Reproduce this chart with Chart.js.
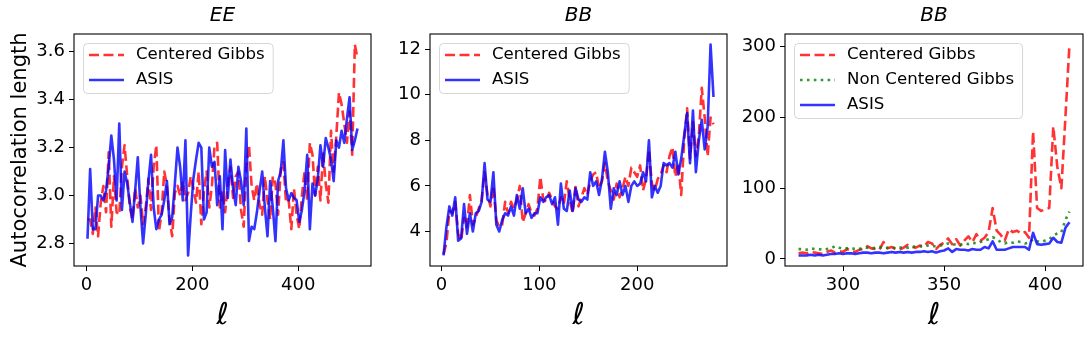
<!DOCTYPE html>
<html>
<head>
<meta charset="utf-8">
<script src="https://cdn.jsdelivr.net/npm/chart.js@4"></script>
<style>
  html, body { margin: 0; padding: 0; background: #fff; }
  #wrap { position: relative; width: 1091px; height: 342px; overflow: hidden; }
  canvas { position: absolute; top: 0; }
</style>
</head>
<body>
<div id="wrap">
  <canvas id="c1" width="380" height="342" style="left:0px"></canvas>
  <canvas id="c2" width="355" height="342" style="left:380px"></canvas>
  <canvas id="c3" width="356" height="342" style="left:735px"></canvas>
</div>
<script>
// ─── DATOS ────────────────────────────────────────────────────
// Panel 1: EE
const ell1 = [2,7,12,17,22,27,32,37,42,47,52,57,62,67,72,77,82,87,92,97,102,107,112,117,122,127,132,137,142,147,152,157,162,167,172,177,182,187,192,197,202,207,212,217,222,227,232,237,242,247,252,257,262,267,272,277,282,287,292,297,302,307,312,317,322,327,332,337,342,347,352,357,362,367,372,377,382,387,392,397,402,407,412,417,422,427,432,437,442,447,452,457,462,467,472,477,482,487,492,497,502,507,512];
const eeGibbs = [2.90,2.90,2.84,2.95,2.83,2.97,3.04,2.93,3.18,2.87,
  3.08,2.93,2.92,3.12,3.21,3.08,2.95,2.90,3.03,2.95,
  3.00,2.88,2.95,3.07,2.94,3.12,3.21,2.85,2.93,3.10,
  3.04,2.90,2.83,3.01,3.04,3.00,3.06,2.98,3.01,3.08,
  3.03,2.97,3.10,2.88,3.02,3.10,2.95,3.04,3.21,3.22,
  2.95,3.02,2.93,3.05,3.12,2.99,3.08,3.10,2.94,2.87,
  3.12,3.21,3.04,2.98,3.05,2.96,2.92,3.08,2.98,2.90,
  3.08,3.05,2.92,3.11,3.14,2.97,2.98,2.86,3.03,2.92,
  2.86,3.00,3.10,2.98,3.22,3.17,3.00,3.12,2.98,3.18,
  3.05,2.97,3.27,3.10,3.25,3.43,3.38,3.30,3.22,3.35,
  3.17,3.63,3.57];
const eeAsis = [2.82,3.11,2.86,2.86,3.00,3.00,2.98,3.02,3.12,3.25,
  3.15,2.98,3.30,2.94,3.10,3.05,2.97,2.89,3.02,3.16,
  2.95,2.80,2.92,3.06,3.17,2.95,2.86,2.90,2.92,2.98,
  3.06,2.88,2.91,3.05,3.20,3.12,2.98,3.23,2.75,2.92,
  3.07,3.15,3.22,3.20,2.90,2.93,3.20,3.12,3.14,2.96,
  3.08,2.86,3.19,2.99,3.15,3.03,2.96,3.12,3.06,2.96,
  3.28,2.81,2.87,2.86,2.93,3.02,3.10,2.95,2.83,3.06,
  2.95,2.81,3.06,3.10,3.23,3.03,2.98,3.01,2.99,2.98,
  2.89,2.94,3.02,3.17,2.86,3.05,3.00,3.07,3.21,3.12,
  3.24,3.20,3.15,3.06,3.23,3.20,3.27,3.22,3.32,3.41,
  3.19,3.23,3.28];
const xTicks1 = [0, 200, 400];
const yTicks1 = [2.8, 3.0, 3.2, 3.4, 3.6];

// Panel 2: BB (ℓ bajos)
const ell2 = [2,5,8,11,14,17,20,23,26,29,32,35,38,41,44,47,50,53,56,59,62,65,68,71,74,77,80,83,86,89,92,95,98,101,104,107,110,113,116,119,122,125,128,131,134,137,140,143,146,149,152,155,158,161,164,167,170,173,176,179,182,185,188,191,194,197,200,203,206,209,212,215,218,221,224,227,230,233,236,239,242,245,248,251,254,257,260,263,266,269,272,275,278];
const bbGibbs = [3.0,3.5,4.9,4.8,5.3,3.9,3.6,4.6,4.2,5.6,
  4.3,4.6,5.0,5.4,6.6,5.6,5.1,6.0,4.5,4.2,
  4.3,5.3,4.8,5.3,5.0,5.4,6.0,4.4,4.8,5.2,
  4.8,4.7,5.0,6.4,5.4,5.3,5.7,5.4,5.1,5.0,
  5.5,5.2,6.2,5.4,4.8,6.0,5.1,5.5,5.9,5.6,
  6.2,6.5,6.6,5.9,6.2,7.0,6.2,5.8,5.4,6.1,
  5.5,5.9,6.4,6.0,6.8,6.6,6.4,6.9,5.8,6.3,
  7.6,6.1,5.8,6.3,6.5,6.9,6.6,7.3,7.7,6.4,
  7.0,5.6,8.0,9.4,7.2,8.8,7.3,8.2,10.3,9.0,
  7.3,9.0,8.7];
const bbAsis = [2.95,4.2,5.1,4.7,5.5,3.6,3.7,5.2,3.9,4.8,
  4.0,4.8,4.9,5.3,7.0,5.4,5.3,6.6,4.3,4.0,
  4.5,4.8,4.7,5.1,4.7,5.6,5.0,5.9,4.8,5.0,
  4.6,4.8,4.8,5.5,5.3,5.5,5.6,5.2,5.5,4.3,
  6.1,5.0,4.9,5.8,4.9,5.9,5.4,5.3,5.5,5.4,
  6.6,6.0,6.2,5.6,6.3,7.5,6.6,5.0,5.9,5.6,
  6.2,5.6,6.0,5.3,6.0,6.2,6.0,6.1,6.6,6.2,
  8.0,5.5,6.0,5.7,6.0,7.0,6.9,7.0,6.8,7.5,
  6.5,7.2,8.2,9.2,7.0,9.3,6.6,8.0,8.9,7.6,
  8.6,12.2,9.9];
const xTicks2 = [0, 100, 200];
const yTicks2 = [4, 6, 8, 10, 12];

// Panel 3: BB (ℓ altos)
const ell3 = [278,280,282,284,286,288,290,292,294,296,298,300,302,304,306,308,310,312,314,316,318,320,322,324,326,328,330,332,334,336,338,340,342,344,346,348,350,352,354,356,358,360,362,364,366,368,370,372,374,376,378,380,382,384,386,388,390,392,394,396,398,400,402,404,406,408,410,412];
const bb3Gibbs = [8,9,8,10,9,8,7,10,12,9,
  11,10,14,12,10,13,14,18,15,14,
  13,24,15,17,14,13,16,20,17,16,
  19,18,24,22,14,20,23,29,21,28,
  19,26,32,24,35,26,30,38,72,40,
  34,26,42,38,40,36,38,30,180,72,
  68,70,72,187,130,100,200,303];
const bb3NonCentered = [14,14,13,15,14,14,13,14,15,18,
  16,15,15,14,15,14,16,16,15,16,
  17,15,16,17,15,16,17,16,18,17,
  18,17,19,18,18,19,20,22,20,21,
  20,22,21,23,22,24,26,28,31,28,
  24,22,24,23,25,24,22,23,28,25,
  24,26,28,33,36,38,55,67];
const bb3Asis = [5,5,5,6,5,6,5,6,7,7,
  8,7,8,8,7,8,9,9,8,9,
  9,8,9,10,9,10,9,10,9,10,
  10,11,10,11,9,11,12,15,10,14,
  13,13,12,14,13,13,17,15,25,13,
  13,13,15,17,17,17,17,13,37,21,
  20,21,22,30,24,23,44,52];
const xTicks3 = [300, 350, 400];
const yTicks3 = [0, 100, 200, 300];

// ─── ESTILO ───────────────────────────────────────────────────
const FONT = 'DejaVu Sans';
const RED = 'rgba(255,0,0,0.8)';
const BLUE = 'rgba(0,0,255,0.8)';
const GREEN = 'rgba(0,128,0,0.8)';
const LW = 2.6;

Chart.defaults.color = '#000';
Chart.defaults.font.family = FONT;

// marco completo de los ejes (estilo matplotlib)
const axesFrame = {
    id: 'axesFrame',
    afterDraw(chart) {
        const { ctx, chartArea: a } = chart;
        ctx.save();
        ctx.strokeStyle = '#000';
        ctx.lineWidth = 1.1;
        ctx.strokeRect(a.left, a.top, a.right - a.left, a.bottom - a.top);
        ctx.restore();
    }
};

// leyenda con caja, arriba a la izquierda dentro del área
const boxLegend = {
    id: 'boxLegend',
    afterDraw(chart) {
        const { ctx, chartArea: a } = chart;
        const items = chart.data.datasets;
        ctx.save();
        ctx.font = `16.6px "${FONT}"`;
        const textW = Math.max(...items.map(d => ctx.measureText(d.label).width));
        const x0 = a.left + 9, y0 = a.top + 9;
        const w = 53 + textW + 8, h = items.length * 25;
        ctx.beginPath();
        ctx.roundRect(x0 + 0.5, y0 + 0.5, w, h, 4);
        ctx.fillStyle = 'rgba(255,255,255,0.8)';
        ctx.fill();
        ctx.strokeStyle = 'rgba(204,204,204,0.8)';
        ctx.lineWidth = 1;
        ctx.stroke();
        items.forEach((d, i) => {
            const y = y0 + 12 + i * 25;
            ctx.beginPath();
            ctx.setLineDash(d.borderDash || []);
            ctx.strokeStyle = d.borderColor;
            ctx.lineWidth = d.borderWidth;
            ctx.moveTo(x0 + 6, y);
            ctx.lineTo(x0 + 41, y);
            ctx.stroke();
            ctx.setLineDash([]);
            ctx.fillStyle = '#000';
            ctx.textBaseline = 'middle';
            ctx.textAlign = 'left';
            ctx.fillText(d.label, x0 + 53, y);
        });
        ctx.restore();
    }
};

// ─── HELPERS ──────────────────────────────────────────────────
function series(label, xs, ys, color, dash, order) {
    return {
        label: label,
        data: xs.map((x, i) => ({ x: x, y: ys[i] })),
        borderColor: color,
        borderWidth: LW,
        borderDash: dash,
        borderJoinStyle: 'round',
        pointRadius: 0,
        tension: 0,
        fill: false,
        order: order
    };
}

// límites como autoscale de matplotlib (margen 5%)
function limits(arrs) {
    const all = [].concat(...arrs);
    const lo = Math.min(...all), hi = Math.max(...all);
    const m = (hi - lo) * 0.05;
    return [lo - m, hi + m];
}

function makePanel(id, cfg) {
    const [xMin, xMax] = limits([cfg.xs]);
    const [yMin, yMax] = limits(cfg.datasets.map(d => d.data.map(p => p.y)));
    const tickGrid = { drawOnChartArea: false, drawTicks: true, tickLength: 5, color: '#000', lineWidth: 1 };

    return new Chart(document.getElementById(id).getContext('2d'), {
        type: 'line',
        data: { datasets: cfg.datasets },
        plugins: [axesFrame, boxLegend],
        options: {
            responsive: false,
            animation: false,
            events: [],
            layout: { padding: { left: 0, right: cfg.rightPad, top: 0, bottom: 0 } },
            plugins: {
                legend: { display: false },
                tooltip: { enabled: false },
                title: {
                    display: true,
                    text: cfg.title,
                    fullSize: false,
                    color: '#000',
                    font: { family: FONT, size: 20, style: 'italic', weight: 'normal' },
                    padding: { top: 4, bottom: 6 }
                }
            },
            scales: {
                x: {
                    type: 'linear',
                    min: xMin, max: xMax,
                    afterBuildTicks: s => { s.ticks = cfg.xTicks.map(v => ({ value: v })); },
                    afterFit: s => { s.height = 76; },
                    ticks: { font: { size: 18 }, padding: 4, maxRotation: 0, autoSkip: false, color: '#000' },
                    grid: tickGrid,
                    border: { display: false },
                    title: {
                        display: true,
                        text: 'ℓ',
                        color: '#000',
                        font: { family: FONT, size: 30, style: 'italic' },
                        padding: { top: 0, bottom: 8 }
                    }
                },
                y: {
                    type: 'linear',
                    min: yMin, max: yMax,
                    afterBuildTicks: s => { s.ticks = cfg.yTicks.map(v => ({ value: v })); },
                    afterFit: s => { s.width = cfg.yWidth; },
                    ticks: { font: { size: 18 }, padding: 4, autoSkip: false, color: '#000', callback: cfg.yFmt },
                    grid: tickGrid,
                    border: { display: false },
                    title: {
                        display: !!cfg.yTitle,
                        text: cfg.yTitle || '',
                        color: '#000',
                        font: { family: FONT, size: 21 },
                        padding: { top: 8, bottom: 0 }
                    }
                }
            }
        }
    });
}

// ─── INIT ─────────────────────────────────────────────────────
makePanel('c1', {
    title: 'EE',
    xs: ell1,
    xTicks: xTicks1, yTicks: yTicks1,
    yFmt: v => v.toFixed(1),
    yTitle: 'Autocorrelation length',
    yWidth: 74, rightPad: 9,
    datasets: [
        series('Centered Gibbs', ell1, eeGibbs, RED, [10, 4.5], 2),
        series('ASIS', ell1, eeAsis, BLUE, [], 1)
    ]
});

makePanel('c2', {
    title: 'BB',
    xs: ell2,
    xTicks: xTicks2, yTicks: yTicks2,
    yFmt: v => String(v),
    yWidth: 50, rightPad: 8,
    datasets: [
        series('Centered Gibbs', ell2, bbGibbs, RED, [10, 4.5], 2),
        series('ASIS', ell2, bbAsis, BLUE, [], 1)
    ]
});

makePanel('c3', {
    title: 'BB',
    xs: ell3,
    xTicks: xTicks3, yTicks: yTicks3,
    yFmt: v => String(v),
    yWidth: 50, rightPad: 8,
    datasets: [
        series('Centered Gibbs', ell3, bb3Gibbs, RED, [10, 4.5], 3),
        series('Non Centered Gibbs', ell3, bb3NonCentered, GREEN, [2.6, 4.3], 2),
        series('ASIS', ell3, bb3Asis, BLUE, [], 1)
    ]
});
</script>
</body>
</html>
